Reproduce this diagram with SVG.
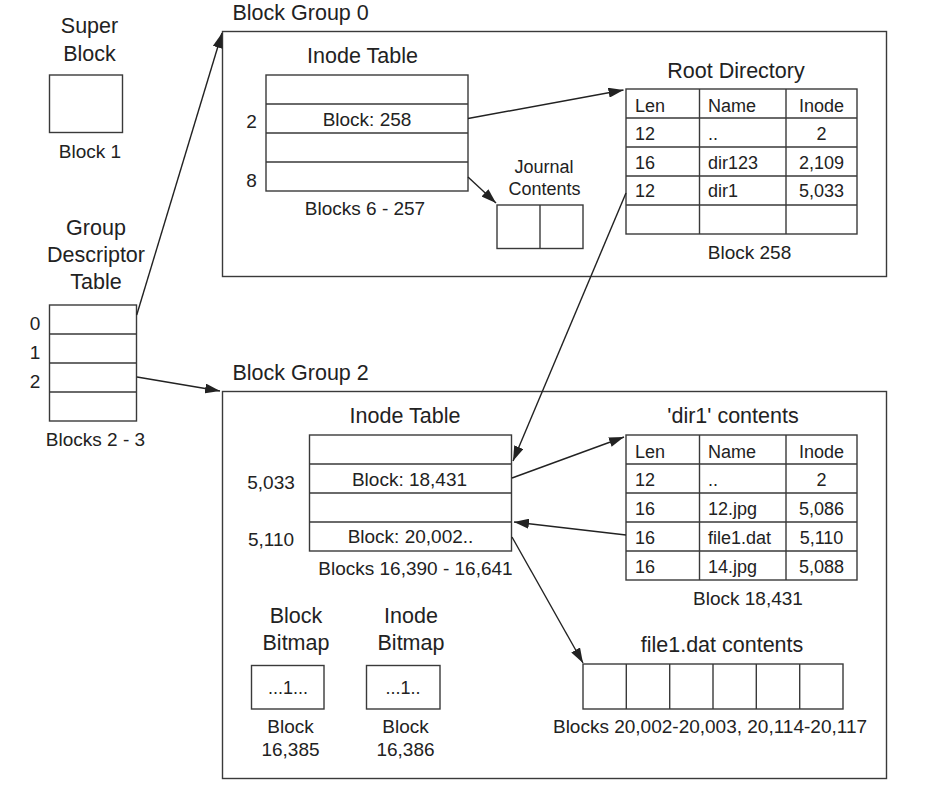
<svg xmlns="http://www.w3.org/2000/svg" width="933" height="795" viewBox="0 0 933 795">
<style>
text{font-family:"Liberation Sans",Arial,sans-serif;fill:#222}
.t{font-size:21.5px}
.l{font-size:19px}
.s{font-size:18px}
.m{text-anchor:middle}
.b{fill:#fff;stroke:#3a3a3a;stroke-width:1.4}
.ln{stroke:#3a3a3a;stroke-width:1.4;fill:none}
.c{stroke:#222;stroke-width:1.4;fill:none;marker-end:url(#ah)}
</style>
<defs>
<marker id="ah" markerUnits="userSpaceOnUse" markerWidth="16" markerHeight="10" refX="15" refY="5" orient="auto">
<path d="M0,0 L15,5 L0,10 z" fill="#222"/>
</marker>
</defs>
<rect width="933" height="795" fill="#fff"/>

<g id="super-block">
<text class="t m" x="89.5" y="33">Super</text>
<text class="t m" x="89.5" y="61">Block</text>
<rect class="b" x="49.5" y="75" width="73" height="57.5"/>
<text class="l m" x="90" y="157.5">Block 1</text>
</g>

<g id="group-descriptor-table">
<text class="t m" x="96" y="235">Group</text>
<text class="t m" x="96" y="262">Descriptor</text>
<text class="t m" x="96" y="289">Table</text>
<rect class="b" x="49.5" y="305" width="87" height="116"/>
<path class="ln" d="M49.5,334H136.5M49.5,363H136.5M49.5,392H136.5"/>
<text class="l m" x="35" y="330">0</text>
<text class="l m" x="35" y="359">1</text>
<text class="l m" x="35" y="388">2</text>
<text class="l m" x="95.5" y="446">Blocks 2 - 3</text>
</g>

<g id="block-group-0">
<rect class="b" x="222.5" y="31.5" width="664" height="245"/>
<text class="t" x="232.5" y="19.5">Block Group 0</text>
</g>

<g id="bg0-inode-table">
<text class="t m" x="362.5" y="62.5">Inode Table</text>
<rect class="b" x="266" y="75" width="202" height="116"/>
<path class="ln" d="M266,104H468M266,133H468M266,162H468"/>
<text class="l m" x="367" y="126">Block: 258</text>
<text class="l m" x="251.5" y="128">2</text>
<text class="l m" x="251.5" y="186.5">8</text>
<text class="l m" x="365" y="215">Blocks 6 - 257</text>
</g>

<g id="journal-contents">
<text class="s m" x="544" y="173">Journal</text>
<text class="s m" x="544.5" y="195">Contents</text>
<rect class="b" x="497" y="205" width="86" height="43.5"/>
<path class="ln" d="M540,205V248.5"/>
</g>

<g id="root-directory">
<text class="t m" x="736" y="77.5">Root Directory</text>
<rect class="b" x="626" y="89" width="231" height="145"/>
<path class="ln" d="M626,118H857M626,147H857M626,176H857M626,205H857M699.5,89V234M786,89V234"/>
<text class="s" x="635" y="111.5">Len</text>
<text class="s" x="708" y="111.5">Name</text>
<text class="s m" x="821.5" y="111.5">Inode</text>
<text class="s" x="635" y="140">12</text>
<text class="s" x="708" y="140">..</text>
<text class="s m" x="821.5" y="140">2</text>
<text class="s" x="635" y="168.5">16</text>
<text class="s" x="708" y="168.5">dir123</text>
<text class="s m" x="821.5" y="168.5">2,109</text>
<text class="s" x="635" y="197">12</text>
<text class="s" x="708" y="197">dir1</text>
<text class="s m" x="821.5" y="197">5,033</text>
<text class="l m" x="749.5" y="258.5">Block 258</text>
</g>

<g id="block-group-2">
<rect class="b" x="222.5" y="391.5" width="664" height="387"/>
<text class="t" x="232.5" y="379.5">Block Group 2</text>
</g>

<g id="bg2-inode-table">
<text class="t m" x="405" y="422.5">Inode Table</text>
<rect class="b" x="309.5" y="435" width="202" height="116"/>
<path class="ln" d="M309.5,464H511.5M309.5,493H511.5M309.5,522H511.5"/>
<text class="l m" x="409.5" y="486">Block: 18,431</text>
<text class="l m" x="410.5" y="543">Block: 20,002..</text>
<text class="l m" x="271" y="489">5,033</text>
<text class="l m" x="271" y="546">5,110</text>
<text class="l m" x="415.5" y="575">Blocks 16,390 - 16,641</text>
</g>

<g id="dir1-contents">
<text class="t m" x="733" y="422.5">'dir1' contents</text>
<rect class="b" x="626" y="435" width="231" height="145"/>
<path class="ln" d="M626,464H857M626,493H857M626,522H857M626,551H857M699.5,435V580M786,435V580"/>
<text class="s" x="635" y="457.5">Len</text>
<text class="s" x="708" y="457.5">Name</text>
<text class="s m" x="821.5" y="457.5">Inode</text>
<text class="s" x="635" y="486">12</text>
<text class="s" x="708" y="486">..</text>
<text class="s m" x="821.5" y="486">2</text>
<text class="s" x="635" y="515">16</text>
<text class="s" x="708" y="515">12.jpg</text>
<text class="s m" x="821.5" y="515">5,086</text>
<text class="s" x="635" y="544">16</text>
<text class="s" x="708" y="544">file1.dat</text>
<text class="s m" x="821.5" y="544">5,110</text>
<text class="s" x="635" y="573">16</text>
<text class="s" x="708" y="573">14.jpg</text>
<text class="s m" x="821.5" y="573">5,088</text>
<text class="l m" x="748" y="605">Block 18,431</text>
</g>

<g id="file1-dat-contents">
<text class="t m" x="722" y="652">file1.dat contents</text>
<rect class="b" x="583" y="664" width="260" height="45"/>
<path class="ln" d="M626.3,664V709M669.7,664V709M713,664V709M756.3,664V709M799.7,664V709"/>
<text class="l m" x="710" y="733">Blocks 20,002-20,003, 20,114-20,117</text>
</g>

<g id="block-bitmap">
<text class="t m" x="296" y="623">Block</text>
<text class="t m" x="296" y="650">Bitmap</text>
<rect class="b" x="251.5" y="665.5" width="72.5" height="43.5"/>
<text class="s m" x="288" y="694">...1...</text>
<text class="l m" x="290.5" y="733">Block</text>
<text class="l m" x="290.5" y="756">16,385</text>
</g>

<g id="inode-bitmap">
<text class="t m" x="411" y="623">Inode</text>
<text class="t m" x="411" y="650">Bitmap</text>
<rect class="b" x="366.5" y="665.5" width="73.5" height="43.5"/>
<text class="s m" x="403" y="694">...1..</text>
<text class="l m" x="405.5" y="733">Block</text>
<text class="l m" x="405.5" y="756">16,386</text>
</g>

<g id="connectors">
<path class="c" d="M136.7,315L222,33"/>
<path class="c" d="M137,377L220,391"/>
<path class="c" d="M468,177L496,203"/>
<path class="c" d="M468,118.5L623.5,90"/>
<path class="c" d="M626,193L513,461"/>
<path class="c" d="M512,478L624,437"/>
<path class="c" d="M626,535L514,522"/>
<path class="c" d="M512,537L583,663"/>
</g>
</svg>
